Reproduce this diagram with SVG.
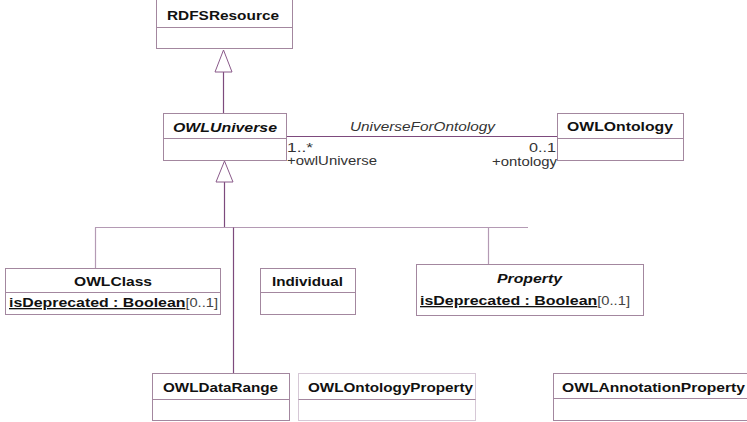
<svg xmlns="http://www.w3.org/2000/svg" width="747" height="422" viewBox="0 0 747 422">
<style>
.box{fill:#fff;stroke:#a3879f;stroke-width:1}
.div{stroke:#a3879f;stroke-width:1}
.con{fill:none;stroke:#7d4a7d;stroke-width:1.2}
.tri{fill:#fff;stroke:#8a5a8a;stroke-width:1}
text{font-family:"Liberation Sans",Arial,sans-serif;font-size:12px;fill:#111}
.b{font-weight:bold;font-size:13px}
.i{font-style:italic}
.u{text-decoration:underline}
.r{font-weight:normal;fill:#444}
.lbl{fill:#333}
</style>
<g id="connectors">
<line class="con" x1="223.5" y1="72" x2="223.5" y2="113"/>
<polygon class="tri" points="223.5,50 215,72 232,72"/>
<line class="con" x1="224.5" y1="182" x2="224.5" y2="227.5"/>
<polygon class="tri" points="224.5,161 216,182 233,182"/>
<line class="con" x1="95" y1="227.5" x2="528" y2="227.5" style="stroke:#b49ab4"/>
<line class="con" x1="95.5" y1="227.5" x2="95.5" y2="268" style="stroke:#b49ab4"/>
<line class="con" x1="233.5" y1="227.5" x2="233.5" y2="373"/>
<line class="con" x1="488.5" y1="227.5" x2="488.5" y2="264" style="stroke:#b49ab4"/>
<line class="con" x1="286" y1="136.5" x2="557" y2="136.5"/>
<text class="i lbl" x="350" y="131" textLength="145" lengthAdjust="spacingAndGlyphs">UniverseForOntology</text>
<text class="lbl" x="287" y="152" textLength="26" lengthAdjust="spacingAndGlyphs">1..*</text>
<text class="lbl" x="287" y="165" textLength="90" lengthAdjust="spacingAndGlyphs">+owlUniverse</text>
<text class="lbl" x="529" y="152" textLength="27" lengthAdjust="spacingAndGlyphs">0..1</text>
<text class="lbl" x="492" y="166" textLength="65" lengthAdjust="spacingAndGlyphs">+ontology</text>
</g>
<g id="RDFSResource">
<rect class="box" x="156.5" y="-1" width="136" height="49.5"/>
<line class="div" x1="156.5" y1="27.5" x2="292.5" y2="27.5"/>
<text class="b" x="167" y="20" textLength="112" lengthAdjust="spacingAndGlyphs">RDFSResource</text>
</g>
<g id="OWLUniverse">
<rect class="box" x="163.5" y="113.5" width="123" height="47"/>
<line class="div" x1="163.5" y1="138.5" x2="286.5" y2="138.5"/>
<text class="b i" x="173" y="132" textLength="104" lengthAdjust="spacingAndGlyphs">OWLUniverse</text>
</g>
<g id="OWLOntology">
<rect class="box" x="557.5" y="113.5" width="126" height="47"/>
<line class="div" x1="557.5" y1="138.5" x2="683.5" y2="138.5"/>
<text class="b" x="567" y="131" textLength="106" lengthAdjust="spacingAndGlyphs">OWLOntology</text>
</g>
<g id="OWLClass">
<rect class="box" x="5.5" y="268.5" width="215" height="46"/>
<line class="div" x1="5.5" y1="292.5" x2="220.5" y2="292.5"/>
<text class="b" x="74" y="286" textLength="78" lengthAdjust="spacingAndGlyphs">OWLClass</text>
<text x="9" y="307" textLength="209" lengthAdjust="spacingAndGlyphs"><tspan class="b u">isDeprecated : Boolean</tspan><tspan class="r">[0..1]</tspan></text>
</g>
<g id="Individual">
<rect class="box" x="260.5" y="268.5" width="95" height="46"/>
<line class="div" x1="260.5" y1="292.5" x2="355.5" y2="292.5"/>
<text class="b" x="272" y="286" textLength="71" lengthAdjust="spacingAndGlyphs">Individual</text>
</g>
<g id="Property">
<rect class="box" x="416.5" y="264.5" width="227" height="51"/>
<text class="b i" x="497" y="283" textLength="65" lengthAdjust="spacingAndGlyphs">Property</text>
<text x="420" y="305" textLength="210" lengthAdjust="spacingAndGlyphs"><tspan class="b u">isDeprecated : Boolean</tspan><tspan class="r">[0..1]</tspan></text>
</g>
<g id="OWLDataRange">
<rect class="box" x="152.5" y="373.5" width="137" height="47"/>
<line class="div" x1="152.5" y1="399.5" x2="289.5" y2="399.5"/>
<text class="b" x="163" y="392" textLength="115" lengthAdjust="spacingAndGlyphs">OWLDataRange</text>
</g>
<g id="OWLOntologyProperty">
<rect class="box" x="298.5" y="373.5" width="177" height="47" style="stroke:#d6c8d6"/>
<line class="div" x1="298.5" y1="399.5" x2="475.5" y2="399.5"/>
<text class="b" x="308" y="392" textLength="165" lengthAdjust="spacingAndGlyphs">OWLOntologyProperty</text>
</g>
<g id="OWLAnnotationProperty">
<rect class="box" x="553.5" y="373.5" width="200" height="47"/>
<line class="div" x1="553.5" y1="398.5" x2="747" y2="398.5"/>
<text class="b" x="562" y="392" textLength="183" lengthAdjust="spacingAndGlyphs">OWLAnnotationProperty</text>
</g>
</svg>
